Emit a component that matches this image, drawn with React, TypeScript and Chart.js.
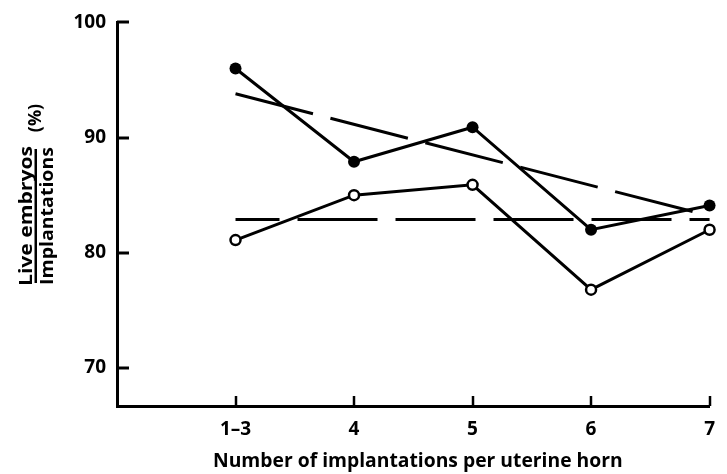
import React, { useEffect, useRef } from "react";
import { Chart, registerables } from "chart.js";

Chart.register(...registerables);

const categories = ["1–3", "4", "5", "6", "7"];
const categoryPositions = [1, 2, 3, 4, 5];
const filledValues = [96.0, 87.9, 90.9, 82.0, 84.1];
const openValues = [81.1, 85.0, 85.9, 76.8, 82.0];
const trendFilledX = [1, 5];
const trendFilledY = [93.8, 83.2];
const trendOpenX = [1, 5];
const trendOpenY = [82.9, 82.9];
const yTicks = [70, 80, 90, 100];
const xTitle = "Number of implantations per uterine horn";
const yTitleTop = "Live embryos";
const yTitleBottom = "Implantations";
const yTitleUnit = "(%)";

const FONT = "'Open Sans', 'DejaVu Sans', sans-serif";

function fitFont(ctx: CanvasRenderingContext2D, text: string, width: number, weight: string) {
  ctx.font = `${weight} 20px ${FONT}`;
  const w = ctx.measureText(text).width || width;
  const size = (20 * width) / w;
  ctx.font = `${weight} ${size.toFixed(2)}px ${FONT}`;
  return size;
}

function stretchedText(
  ctx: CanvasRenderingContext2D,
  text: string,
  size: number,
  width: number,
  x: number,
  y: number
) {
  ctx.font = `bold ${size}px ${FONT}`;
  const w = ctx.measureText(text).width || width;
  const sx = width / w;
  ctx.save();
  ctx.translate(x, y);
  ctx.scale(sx, 1);
  ctx.textAlign = "center";
  ctx.textBaseline = "alphabetic";
  ctx.fillText(text, 0, 0);
  ctx.restore();
}

const inwardTicks = {
  id: "inwardTicks",
  afterDatasetsDraw(chart: any) {
    const { ctx, chartArea, scales } = chart;
    ctx.save();
    ctx.strokeStyle = "#000";
    ctx.lineCap = "butt";
    ctx.lineWidth = 3;
    yTicks.forEach((v) => {
      const y = Math.round(scales.y.getPixelForValue(v));
      ctx.beginPath();
      ctx.moveTo(chartArea.left, y);
      ctx.lineTo(chartArea.left + 12, y);
      ctx.stroke();
    });
    ctx.lineWidth = 2.5;
    categoryPositions.forEach((p) => {
      const x = Math.round(scales.x.getPixelForValue(p));
      ctx.beginPath();
      ctx.moveTo(x, chartArea.bottom);
      ctx.lineTo(x, chartArea.bottom - 10);
      ctx.stroke();
    });
    ctx.restore();
  },
};

const titles = {
  id: "titles",
  afterDraw(chart: any) {
    const { ctx } = chart;
    ctx.save();
    ctx.fillStyle = "#000";
    // x title
    fitFont(ctx, xTitle, 410, "bold");
    ctx.textAlign = "left";
    ctx.textBaseline = "alphabetic";
    ctx.fillText(xTitle, 213, 467);
    // y title (fraction), rotated
    ctx.translate(36, 216);
    ctx.rotate(-Math.PI / 2);
    stretchedText(ctx, yTitleTop, 17, 140, 0, -4);
    stretchedText(ctx, yTitleBottom, 17, 138, 0, 16.5);
    ctx.fillRect(-67, -1.5, 134, 2.5);
    ctx.font = `bold 18px ${FONT}`;
    ctx.textAlign = "center";
    ctx.textBaseline = "middle";
    ctx.fillText(yTitleUnit, 98, 0);
    ctx.restore();
  },
};

export default function App() {
  const ref = useRef<HTMLCanvasElement | null>(null);
  useEffect(() => {
    if (!ref.current) return;
    const chart = new Chart(ref.current, {
      type: "line",
      data: {
        datasets: [
          {
            data: categoryPositions.map((x, i) => ({ x, y: filledValues[i] })),
            borderColor: "#000",
            backgroundColor: "#000",
            borderWidth: 3,
            pointRadius: 6,
            pointBackgroundColor: "#000",
            pointBorderWidth: 0,
            clip: false as any,
          },
          {
            data: categoryPositions.map((x, i) => ({ x, y: openValues[i] })),
            borderColor: "#000",
            backgroundColor: "#fff",
            borderWidth: 3,
            pointRadius: 5,
            pointBackgroundColor: "#fff",
            pointBorderColor: "#000",
            pointBorderWidth: 2.5,
            clip: false as any,
          },
          {
            data: trendFilledX.map((x, i) => ({ x, y: trendFilledY[i] })),
            borderColor: "#000",
            borderWidth: 3,
            borderDash: [80, 18],
            pointRadius: 0,
            clip: false as any,
          },
          {
            data: trendOpenX.map((x, i) => ({ x, y: trendOpenY[i] })),
            borderColor: "#000",
            borderWidth: 3,
            borderDash: [80, 18],
            borderDashOffset: 36,
            pointRadius: 0,
            clip: false as any,
          },
        ],
      },
      options: {
        animation: false,
        responsive: false,
        layout: { padding: { top: 18, right: 8, left: 0, bottom: 0 } },
        plugins: {
          legend: { display: false },
          tooltip: { enabled: false },
        },
        scales: {
          x: {
            type: "linear",
            min: 0,
            max: 5,
            afterBuildTicks: (s: any) => {
              s.ticks = categoryPositions.map((v) => ({ value: v }));
            },
            afterFit: (s: any) => {
              s.height = 68;
            },
            ticks: {
              autoSkip: false,
              maxRotation: 0,
              color: "#000",
              padding: 12,
              font: { family: FONT, size: 19, weight: "bold" },
              callback: (v: any) => categories[categoryPositions.indexOf(Number(v))] ?? "",
            },
            grid: { display: true, drawOnChartArea: false, drawTicks: false },
            border: { color: "#000", width: 3 },
          },
          y: {
            type: "linear",
            min: 66.7,
            max: 100,
            afterBuildTicks: (s: any) => {
              s.ticks = yTicks.map((v) => ({ value: v }));
            },
            afterFit: (s: any) => {
              s.width = 117;
            },
            ticks: {
              color: "#000",
              padding: 11,
              font: { family: FONT, size: 19, weight: "bold" },
            },
            grid: { display: true, drawOnChartArea: false, drawTicks: false },
            border: { color: "#000", width: 3 },
          },
        },
      },
      plugins: [inwardTicks, titles],
    } as any);
    return () => chart.destroy();
  }, []);
  return (
    <canvas
      ref={ref}
      width={727}
      height={474}
      style={{ position: "fixed", left: 0, top: 0, width: 727, height: 474, display: "block" }}
    />
  );
}
